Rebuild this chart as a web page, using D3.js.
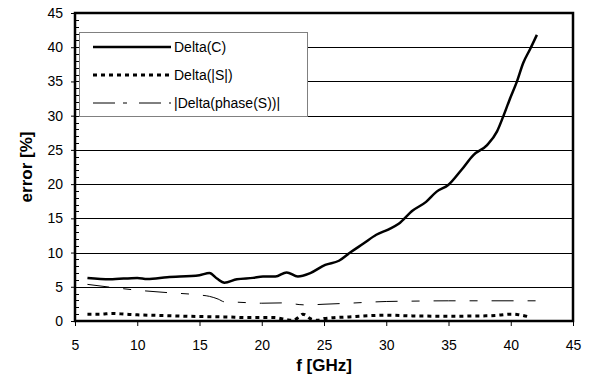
<!DOCTYPE html>
<html><head><meta charset="utf-8">
<script src="https://cdn.jsdelivr.net/npm/d3@7"></script>
<style>body{margin:0;background:#fff}svg{display:block}text{font-family:"Liberation Sans",Arial,sans-serif}</style>
</head><body><svg id="c" width="590" height="381"></svg>
<script>
const xTicks = [5,10,15,20,25,30,35,40,45];
const yTicks = [0,5,10,15,20,25,30,35,40,45];
const seriesNames = ["Delta(C)","Delta(|S|)","|Delta(phase(S))|"];
const fC = [6,7.8,10,10.8,12.4,15,15.8,16.4,17,18,19.3,20.1,21.1,22,22.9,23.9,25.1,26.2,27.1,28.2,29.2,30.2,31,32.1,33.2,34.05,35,36.05,37,38.1,38.9,39.4,39.9,40.5,41,41.55,42.1];
const vC = [6.3,6.1,6.3,6.15,6.4,6.7,7.0,6.2,5.6,6.1,6.3,6.5,6.5,7.1,6.5,7.0,8.2,8.8,10.0,11.35,12.6,13.4,14.2,16.1,17.4,18.9,19.9,22.1,24.25,25.7,27.7,29.9,32.3,35.0,37.7,39.7,41.8];
const fS = [6,7,8,9,10,12,15,17,19,20,21,22,22.5,23,23.3,24,24.5,25,27,30,32,35,38,39,40,40.5,41.5];
const vS = [1.0,1.0,1.1,1.0,0.9,0.8,0.65,0.6,0.5,0.5,0.5,0.2,0.1,0.6,1.0,0.25,0.1,0.35,0.6,0.85,0.75,0.7,0.75,0.85,1.0,0.95,0.6];
const fP = [6,8,10,12.4,15,15.8,16.5,17,18,20,22,23,23.6,25,27,30,32,35,38,42];
const vP = [5.35,4.9,4.5,4.15,3.8,3.6,3.2,2.8,2.75,2.6,2.65,2.4,2.35,2.45,2.6,2.85,2.9,2.95,2.95,2.95];

const svg = d3.select("#c");
const x = d3.scaleLinear().domain([5,45]).range([75,573]);
const y = d3.scaleLinear().domain([0,45]).range([321,13]);

// gridlines
svg.append("g").selectAll("line").data(yTicks.filter(v=>v>0&&v<45)).join("line")
  .attr("x1",75).attr("x2",573).attr("y1",d=>Math.round(y(d))+0.5).attr("y2",d=>Math.round(y(d))+0.5)
  .attr("stroke","#000").attr("stroke-width",1);

// minor ticks on y axis (inside)
svg.append("g").selectAll("line").data(d3.range(1,45).filter(v=>v%5!==0)).join("line")
  .attr("x1",75).attr("x2",79).attr("y1",d=>Math.round(y(d))+0.5).attr("y2",d=>Math.round(y(d))+0.5)
  .attr("stroke","#000").attr("stroke-width",1);

// axes
const xAxis = d3.axisBottom(x).tickValues(xTicks).tickSize(5).tickPadding(14);
const gx = svg.append("g").attr("transform","translate(0,321)").call(xAxis);
gx.select(".domain").remove();
gx.selectAll("line").attr("stroke","#000").attr("stroke-width",1);
gx.selectAll("text").attr("font-size",14).attr("fill","#000");

const yAxis = d3.axisLeft(y).tickValues(yTicks).tickSize(4).tickPadding(8);
const gy = svg.append("g").attr("transform","translate(75,0)").call(yAxis);
gy.select(".domain").remove();
gy.selectAll("line").attr("stroke","#000").attr("stroke-width",1);
gy.selectAll("text").attr("font-size",14).attr("fill","#000");

// frame
svg.append("rect").attr("x",75).attr("y",13).attr("width",498).attr("height",308)
  .attr("fill","none").attr("stroke","#000").attr("stroke-width",2.5);

// lines
const lineGen = (fs, vs, curve) => d3.line().x((d,i)=>x(fs[i])).y((d,i)=>y(vs[i])).curve(curve)(vs);
svg.append("path").attr("d",lineGen(fP,vP,d3.curveMonotoneX)).attr("fill","none")
  .attr("stroke","#000").attr("stroke-width",1).attr("stroke-dasharray","22,14,8,14");
svg.append("path").attr("d",lineGen(fS,vS,d3.curveMonotoneX)).attr("fill","none")
  .attr("stroke","#000").attr("stroke-width",3).attr("stroke-dasharray","4,4");
svg.append("path").attr("d",lineGen(fC,vC,d3.curveMonotoneX)).attr("fill","none")
  .attr("stroke","#000").attr("stroke-width",2.5);

// legend
const lg = svg.append("g");
lg.append("rect").attr("x",79.5).attr("y",32.5).attr("width",228).attr("height",84)
  .attr("fill","#fff").attr("stroke","#808080").attr("stroke-width",1);
const styles = [{w:2.5,da:null},{w:3,da:"4,4"},{w:1,da:"22,8,4,12"}];
const rows = [47,75,103];
seriesNames.forEach((n,i)=>{
  lg.append("line").attr("x1",93).attr("x2",171).attr("y1",rows[i]).attr("y2",rows[i])
    .attr("stroke","#000").attr("stroke-width",styles[i].w).attr("stroke-dasharray",styles[i].da);
  lg.append("text").attr("x",174).attr("y",rows[i]+5).attr("font-size",14).text(n);
});

// axis titles
svg.append("text").attr("x",324).attr("y",371).attr("text-anchor","middle")
  .attr("font-size",17).attr("font-weight","bold").text("f [GHz]");
svg.append("text").attr("transform","translate(32,167) rotate(-90)").attr("text-anchor","middle")
  .attr("font-size",17).attr("font-weight","bold").text("error [%]");
</script></body></html>
